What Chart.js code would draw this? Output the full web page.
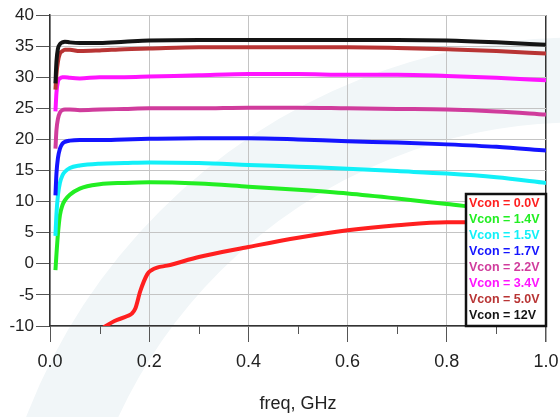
<!DOCTYPE html>
<html lang="en">
<head>
    <meta charset="UTF-8">
    <title>Gain vs freq</title>
    <script src="https://cdn.jsdelivr.net/npm/chart.js"></script>
    <style>
        html, body { margin: 0; padding: 0; background: #fff; }
        #wrap { width: 560px; height: 417px; }
    </style>
</head>
<body>
<div id="wrap"><canvas id="grafico"></canvas></div>
<script>
    // frequency points (GHz)
    const freq = [0.011, 0.013, 0.016, 0.02, 0.025, 0.03, 0.04, 0.06, 0.1, 0.15, 0.2, 0.3, 0.4, 0.5, 0.6, 0.7, 0.8, 0.9, 1.0];
    const freqRed = [0.108, 0.13, 0.156, 0.165, 0.172, 0.182, 0.196, 0.205, 0.216, 0.236, 0.3, 0.4, 0.5, 0.6, 0.7, 0.8, 0.85, 0.9, 1.0];

    // curves, one per Vcon
    const v00 = [-10.2, -9.2, -8.4, -8.0, -7.2, -4.4, -1.7, -1.0, -0.6, -0.3, 1.1, 2.7, 4.2, 5.4, 6.2, 6.7, 6.7, 6.5, 5.8];
    const v14 = [-1.0, 1.5, 4.8, 7.8, 9.4, 10.2, 11.1, 12.1, 12.8, 13.0, 13.1, 12.9, 12.4, 11.9, 11.3, 10.5, 9.6, 8.7, 7.5];
    const v15 = [4.5, 8.0, 11.0, 13.0, 14.2, 14.8, 15.4, 15.8, 16.1, 16.2, 16.3, 16.2, 15.9, 15.6, 15.3, 14.9, 14.5, 13.9, 13.0];
    const v17 = [11.0, 14.5, 17.0, 18.5, 19.3, 19.6, 19.8, 19.9, 19.9, 20.0, 20.1, 20.2, 20.2, 20.0, 19.7, 19.5, 19.2, 18.8, 18.2];
    const v22 = [18.5, 21.5, 23.3, 24.3, 24.7, 24.8, 24.8, 24.7, 24.8, 24.9, 25.0, 25.0, 25.1, 25.1, 25.0, 24.9, 24.8, 24.5, 24.0];
    const v34 = [24.5, 27.5, 29.3, 29.8, 30.0, 30.0, 29.9, 29.8, 30.0, 30.0, 30.1, 30.3, 30.5, 30.5, 30.4, 30.4, 30.2, 29.9, 29.5];
    const v50 = [28.0, 30.5, 32.5, 33.8, 34.2, 34.4, 34.4, 34.2, 34.3, 34.5, 34.6, 34.8, 34.8, 34.8, 34.8, 34.7, 34.5, 34.2, 33.8];
    const v12 = [29.0, 32.5, 34.6, 35.3, 35.6, 35.7, 35.6, 35.5, 35.5, 35.7, 35.9, 36.0, 36.0, 36.0, 36.0, 36.0, 35.9, 35.6, 35.2];

    const labels = ['Vcon = 0.0V', 'Vcon = 1.4V', 'Vcon = 1.5V', 'Vcon = 1.7V', 'Vcon = 2.2V', 'Vcon = 3.4V', 'Vcon = 5.0V', 'Vcon = 12V'];
    const colores = ['#ff1f1f', '#22ee22', '#12f0f8', '#1414ff', '#d03c9c', '#ff14ff', '#b83434', '#141414'];
    const series = [v00, v14, v15, v17, v22, v34, v50, v12];

    const yTicks = { min: -10, max: 40, step: 5 };
    const xTicks = { min: 0, max: 1, step: 0.2 };

    const toPoints = (xs, ys) => ys.map((y, i) => ({ x: xs[i], y: y }));

    const datasets = series.map((s, i) => ({
        label: labels[i],
        data: toPoints(i === 0 ? freqRed : freq, s),
        borderColor: colores[i],
        backgroundColor: colores[i],
        borderWidth: 4,
        pointRadius: 0,
        cubicInterpolationMode: 'monotone',
        order: series.length - i
    }));

    // faint swoosh behind the plot
    const fondo = {
        id: 'fondo',
        beforeDraw(chart) {
            const c = chart.ctx;
            c.save();
            c.strokeStyle = 'rgb(241,246,248)';
            c.lineWidth = 85;
            c.beginPath();
            c.arc(579, 630, 550, Math.PI, 1.65 * Math.PI);
            c.stroke();
            c.restore();
        }
    };

    // minor ticks on x axis + boxed legend
    const extras = {
        id: 'extras',
        afterDraw(chart) {
            const c = chart.ctx;
            const xs = chart.scales.x;
            const area = chart.chartArea;
            c.save();
            c.strokeStyle = '#555';
            c.lineWidth = 1;
            for (let i = 0; i < xs.ticks.length - 1; i++) {
                const v = (xs.ticks[i].value + xs.ticks[i + 1].value) / 2;
                const px = Math.round(xs.getPixelForValue(v)) + 0.5;
                c.beginPath();
                c.moveTo(px, area.bottom);
                c.lineTo(px, area.bottom + 8);
                c.stroke();
            }

            // legend box
            const w = 80, h = 132;
            const bx = area.right - w, by = area.bottom - h;
            c.fillStyle = '#fff';
            c.fillRect(bx, by, w, h);
            c.strokeStyle = '#111';
            c.lineWidth = 2.5;
            c.strokeRect(bx, by, w, h);
            c.font = 'bold 12.5px "Liberation Sans", Arial, sans-serif';
            c.textBaseline = 'middle';
            c.textAlign = 'left';
            chart.data.datasets.forEach((d, i) => {
                c.fillStyle = d.borderColor;
                c.fillText(d.label, bx + 3, by + 10 + i * 16);
            });
            c.restore();
        }
    };

    Chart.defaults.font.family = '"Liberation Sans", Arial, sans-serif';
    Chart.defaults.color = '#222';

    const ctx = document.getElementById('grafico').getContext('2d');
    const myChart = new Chart(ctx, {
        type: 'line',
        data: { datasets: datasets },
        options: {
            responsive: true,
            maintainAspectRatio: false,
            animation: false,
            layout: { padding: { top: 15, right: 14, left: 0, bottom: 0 } },
            plugins: {
                legend: { display: false },
                tooltip: { enabled: false }
            },
            scales: {
                x: {
                    type: 'linear',
                    min: xTicks.min,
                    max: xTicks.max,
                    afterFit(scale) {
                        scale.height = 91;
                        scale.paddingLeft = 0;
                        scale.paddingRight = 0;
                    },
                    ticks: {
                        stepSize: xTicks.step,
                        padding: 9,
                        font: { size: 18 },
                        color: '#222',
                        maxRotation: 0,
                        callback: v => v.toFixed(1)
                    },
                    grid: {
                        color: c => (c.tick && c.tick.value === xTicks.max) ? '#333' : '#c4c4c4',
                        lineWidth: c => (c.tick && c.tick.value === xTicks.max) ? 1.5 : 1,
                        tickColor: '#555',
                        tickLength: 16
                    },
                    border: { color: '#333', width: 1.5 },
                    title: {
                        display: true,
                        text: 'freq, GHz',
                        font: { size: 18 },
                        color: '#222',
                        padding: { top: 0, bottom: 2 }
                    }
                },
                y: {
                    min: yTicks.min,
                    max: yTicks.max,
                    afterFit(scale) { scale.width = 50; },
                    ticks: {
                        stepSize: yTicks.step,
                        padding: 2,
                        font: { size: 17 },
                        color: '#222'
                    },
                    grid: {
                        color: '#c4c4c4',
                        tickColor: '#555',
                        tickLength: 14
                    },
                    border: { color: '#333', width: 1.5 }
                }
            }
        },
        plugins: [fondo, extras]
    });
</script>
</body>
</html>
